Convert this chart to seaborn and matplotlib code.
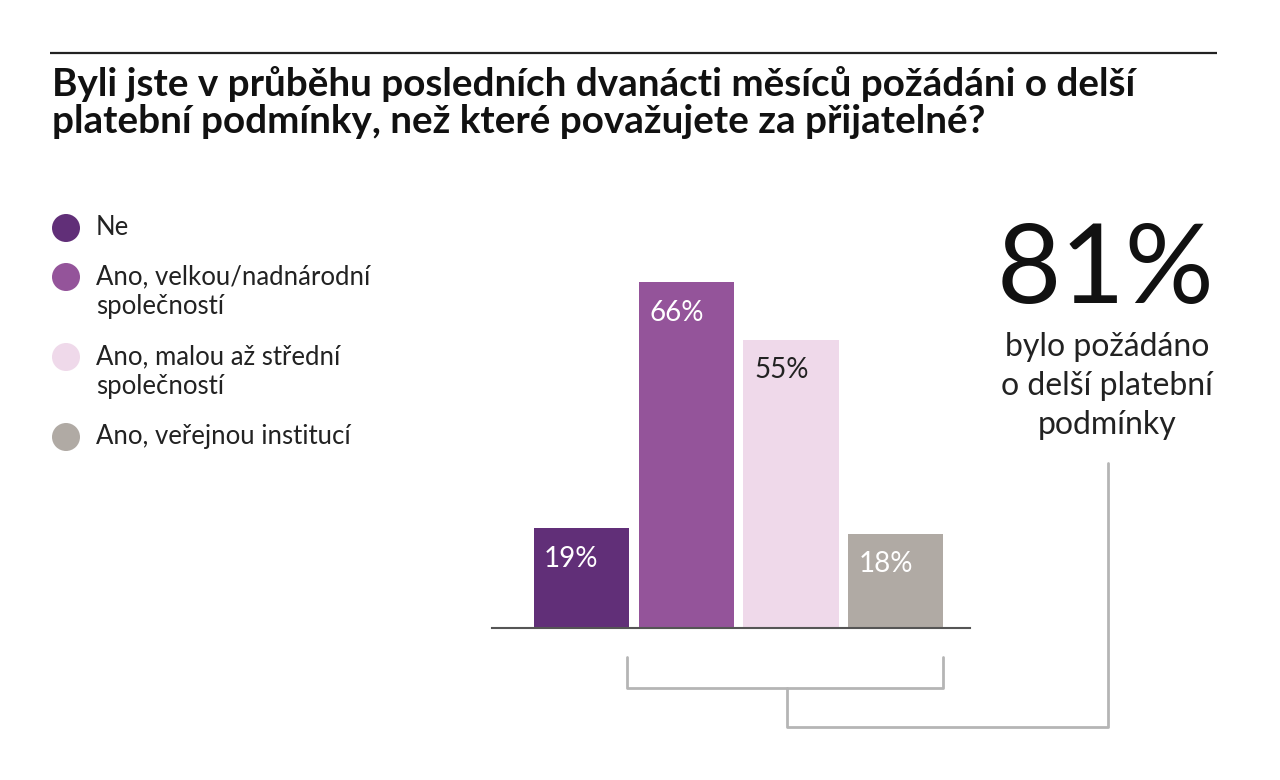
import matplotlib
matplotlib.use("Agg")
import matplotlib.pyplot as plt
from matplotlib.patches import Circle
import seaborn as sns

categories = ["Ne", "Ano, velkou/nadnárodní\nspolečností", "Ano, malou až střední\nspolečností", "Ano, veřejnou institucí"]
values = [19, 66, 55, 18]
value_labels = ["19%", "66%", "55%", "18%"]
colors = ["#612f78", "#94549a", "#efd9ea", "#b0aaa4"]
label_colors = ["white", "white", "#222222", "white"]
title_lines = ["Byli jste v průběhu posledních dvanácti měsíců požádáni o delší",
               "platební podmínky, než které považujete za přijatelné?"]
big_number = "81%"
big_caption = ["bylo požádáno", "o delší platební", "podmínky"]

sns.set_theme(style="white")
plt.rcParams['font.family'] = ['Lato', 'DejaVu Sans']

W, H = 1280, 780
fig = plt.figure(figsize=(W / 100, H / 100), dpi=100)
fig.patch.set_facecolor("white")

# bar axes
ax_left, ax_right, ax_base = 492, 970, 628
ymax = 70
px_per = 5.24
ax_h = ymax * px_per
ax = fig.add_axes([ax_left / W, (H - ax_base) / H, (ax_right - ax_left) / W, ax_h / H])
sns.barplot(x=list(range(len(values))), y=values, hue=list(range(len(values))),
            palette=colors, width=0.905, legend=False, ax=ax, saturation=1, linewidth=0)
ax.set_xlim(-0.848, 3.705)
ax.set_ylim(0, ymax)
for s in ["top", "left", "right"]:
    ax.spines[s].set_visible(False)
ax.spines["bottom"].set_color("#555555")
ax.spines["bottom"].set_linewidth(1.5)
ax.set_xticks([])
ax.set_yticks([])
ax.set_xlabel("")
ax.set_ylabel("")
ax.set_facecolor("none")
for i, (v, lab, c) in enumerate(zip(values, value_labels, label_colors)):
    ax.text(i - 0.905 / 2 + 0.1, v - 5.8, lab, ha="left", va="center",
            fontsize=20, color=c)

# overlay axes in pixel coords
ov = fig.add_axes([0, 0, 1, 1], zorder=-1)
ov.set_xlim(0, W)
ov.set_ylim(H, 0)
ov.axis("off")

ov.plot([50, 1217], [53, 53], color="#222222", lw=1.6, solid_capstyle="butt")
for k, line in enumerate(title_lines):
    ov.text(52, 96 + 37 * k, line, ha="left", va="baseline", fontsize=27.8,
            fontweight="bold", color="#111111")

# legend
leg_y = [228, 277, 357, 437]
for y, cat, c in zip(leg_y, categories, colors):
    ov.add_patch(Circle((66, y), 14, color=c, lw=0))
    for k, line in enumerate(cat.split("\n")):
        ov.text(96, y + 7 + 30 * k, line, ha="left", va="baseline", fontsize=18.5,
                color="#222222")

# big number
ov.text(1105, 303, big_number, ha="center", va="baseline", fontsize=80,
        color="#111111")
for k, line in enumerate(big_caption):
    ov.text(1107, 356 + 39 * k, line, ha="center", va="baseline", fontsize=23,
            color="#222222")

# brackets
bc = "#b5b5b5"
ov.plot([627, 627, 943, 943], [657, 688, 688, 657], color=bc, lw=2)
ov.plot([787, 787, 1108, 1108], [688, 727, 727, 463], color=bc, lw=2)

fig.savefig("out.png", dpi=100, facecolor="white")
